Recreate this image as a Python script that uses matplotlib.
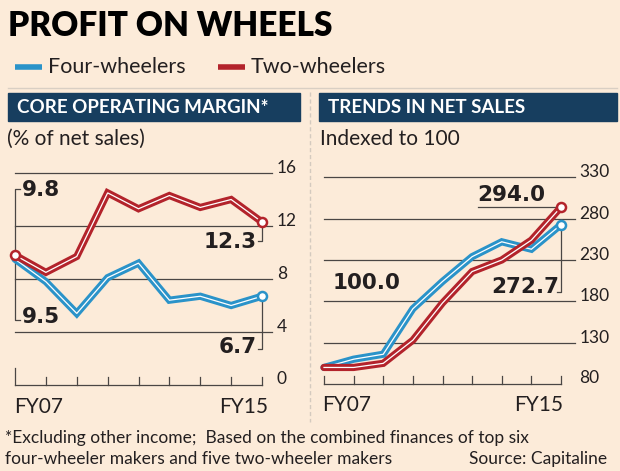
import matplotlib
matplotlib.use("Agg")
import matplotlib.pyplot as plt
from matplotlib.patches import Rectangle

# ---------------- data ----------------
years = ["FY07", "FY08", "FY09", "FY10", "FY11", "FY12", "FY13", "FY14", "FY15"]
margin_four = [9.5, 7.8, 5.4, 8.1, 9.2, 6.4, 6.7, 6.0, 6.7]
margin_two = [9.8, 8.5, 9.7, 14.5, 13.3, 14.3, 13.4, 14.0, 12.3]
sales_four = [100.0, 110, 116, 171, 204, 234, 252, 243, 272.7]
sales_two = [100.0, 100, 105, 133, 178, 216, 230, 254, 294.0]
margin_ticks = [0, 4, 8, 12, 16]
sales_ticks = [80, 130, 180, 230, 280, 330]
x_labels = ["FY07", "FY15"]

BG = "#FCEBD9"
BLUE = "#2A93C9"
RED = "#B3232B"
NAVY = "#173E5F"
DARK = "#231F20"
GRID = "#4A4644"
NARROW = ["Lato", "DejaVu Sans"]
REG = ["Lato", "DejaVu Sans"]

W, H = 620, 471
fig = plt.figure(figsize=(W / 100, H / 100), dpi=100)
fig.patch.set_facecolor(BG)

# overlay axes in pixel coordinates for decorations
ov = fig.add_axes([0, 0, 1, 1])
ov.set_xlim(0, W)
ov.set_ylim(H, 0)
ov.axis("off")
ov.set_zorder(0)


def make_axes(x0, x1, ytop, ybot):
    return fig.add_axes([x0 / W, 1 - ybot / H, (x1 - x0) / W, (ybot - ytop) / H])


# ---------------- title and legend ----------------
ov.text(8, 26, "PROFIT ON WHEELS", fontsize=24, fontweight="heavy", family=NARROW,
        color="black", va="center", ha="left")
ov.plot([15, 42], [67, 67], color=BLUE, lw=4, solid_capstyle="butt")
ov.text(48, 67, "Four-wheelers", fontsize=15.5, family=NARROW, color=DARK, va="center")
ov.plot([218, 245], [67, 67], color=RED, lw=4, solid_capstyle="butt")
ov.text(251, 67, "Two-wheelers", fontsize=15.5, family=NARROW, color=DARK, va="center")
ov.plot([8, 617], [88, 88], color="#D9CFC4", lw=1)
ov.plot([310, 310], [92, 422], color="#D4CABF", lw=1, ls=(0, (3, 2)))

# ---------------- headers ----------------
ov.add_patch(Rectangle((8, 93), 292, 28, color=NAVY))
ov.text(17, 107.5, "CORE OPERATING MARGIN*", fontsize=13.5, family=NARROW, color="white",
        va="center", fontweight="bold")
ov.add_patch(Rectangle((319, 93), 298, 28, color=NAVY))
ov.text(328, 107.5, "TRENDS IN NET SALES", fontsize=13.5, family=NARROW, color="white",
        va="center", fontweight="bold")
ov.text(7, 139, "(% of net sales)", fontsize=15, family=NARROW, color=DARK, va="center")
ov.text(320, 139, "Indexed to 100", fontsize=15, family=NARROW, color=DARK, va="center")


def draw_series(ax, xs, ys, color, start_marker, end_marker):
    ax.plot(xs, ys, color=color, lw=5.2, solid_joinstyle="miter", solid_capstyle="round",
            clip_on=False, zorder=3)
    ax.plot(xs, ys, color="white", lw=0.9, solid_joinstyle="miter", clip_on=False, zorder=3)
    if start_marker:
        ax.plot(xs[0], ys[0], "o", ms=6.5, mfc="white", mec=color, mew=1.8, clip_on=False, zorder=4)
    if end_marker:
        ax.plot(xs[-1], ys[-1], "o", ms=6.5, mfc="white", mec=color, mew=1.8, clip_on=False, zorder=4)


def style_axes(ax, ticks, ymin, px_per_unit, first_tall):
    ax.set_facecolor("none")
    for s in ax.spines.values():
        s.set_visible(False)
    ax.set_xticks([])
    ax.set_yticks([])
    xmax = ax.get_xlim()[1]
    for t in ticks[1:]:
        ax.plot([0, xmax], [t, t], color=GRID, lw=0.9, zorder=1, clip_on=False)
        ax.text(xmax + 0.15, t + 5 / px_per_unit, str(t), fontsize=12.5, family=REG,
                color=DARK, va="center", ha="left")
    ax.text(xmax + 0.15, ticks[0] + 6 / px_per_unit, str(ticks[0]), fontsize=12.5, family=REG,
            color=DARK, va="center", ha="left")
    ax.plot([0, len(years) - 1], [ymin, ymin], color=GRID, lw=0.9, clip_on=False)
    for i in range(len(years)):
        h = 17 if (i == 0 and first_tall) else 8
        ax.plot([i, i], [ymin, ymin + h / px_per_unit], color=GRID, lw=0.9, clip_on=False)


xs = list(range(len(years)))

# ---------------- left panel ----------------
axL = make_axes(15, 272, 173, 385)
axL.set_xlim(0, 8 * 257 / 247)
axL.set_ylim(0, 16)
style_axes(axL, margin_ticks, 0, 212 / 16, True)
draw_series(axL, xs, margin_four, BLUE, False, True)
draw_series(axL, xs, margin_two, RED, True, True)

# ---------------- right panel ----------------
axR = make_axes(324, 575, 177.3, 384)
axR.set_xlim(0, 8 * 251 / 237)
axR.set_ylim(80, 330)
style_axes(axR, sales_ticks, 80, 206.7 / 250, False)
draw_series(axR, xs, sales_four, BLUE, False, True)
draw_series(axR, xs, sales_two, RED, False, True)

# x labels
ov.text(14, 407, x_labels[0], fontsize=15, family=REG, color=DARK, va="center")
ov.text(268, 407, x_labels[1], fontsize=15, family=REG, color=DARK, va="center", ha="right")
ov.text(322, 405, x_labels[0], fontsize=15, family=REG, color=DARK, va="center")
ov.text(563, 405, x_labels[1], fontsize=15, family=REG, color=DARK, va="center", ha="right")

# ---------------- value callouts ----------------
BOLD = dict(fontsize=15.5, fontweight="bold", family=["DejaVu Sans"], color=DARK, va="center")
ov.plot([20, 15, 15, 20], [189, 189, 320, 320], color=GRID, lw=0.9)
ov.text(22, 190, f"{margin_two[0]:.1f}", **BOLD)
ov.text(22, 317, f"{margin_four[0]:.1f}", **BOLD)
ov.plot([262, 262, 258], [226, 241, 241], color=GRID, lw=0.9)
ov.text(257, 242, f"{margin_two[-1]:.1f}", ha="right", **BOLD)
ov.plot([262, 262, 258], [301, 349, 349], color=GRID, lw=0.9)
ov.text(257, 347, f"{margin_four[-1]:.1f}", ha="right", **BOLD)

ov.text(333, 283, f"{sales_two[0]:.1f}", **BOLD)
ov.text(477, 195, f"{sales_two[-1]:.1f}", **BOLD)
ov.plot([478, 557], [206.5, 206.5], color=GRID, lw=0.9)
ov.plot([561, 561, 557], [229, 292, 292], color=GRID, lw=0.9)
ov.text(491, 287, f"{sales_four[-1]:.1f}", **BOLD)

# ---------------- footnote ----------------
ov.text(5, 438, "*Excluding other income;  Based on the combined finances of top six",
        fontsize=12.5, family=NARROW, color=DARK, va="center")
ov.text(5, 459, "four-wheeler makers and five two-wheeler makers",
        fontsize=12.5, family=NARROW, color=DARK, va="center")
ov.text(607, 459, "Source: Capitaline", fontsize=12.5, family=NARROW, color=DARK,
        va="center", ha="right")

fig.savefig("out.png", dpi=100, facecolor=BG)
